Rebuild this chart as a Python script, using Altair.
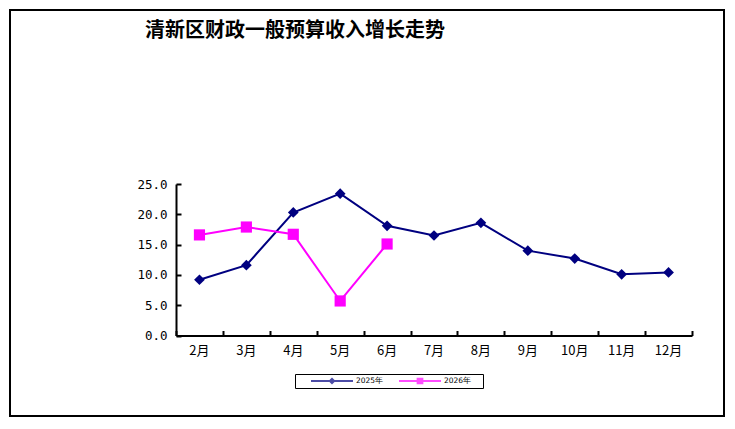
import altair as alt
import pandas as pd

months = ["2月", "3月", "4月", "5月", "6月", "7月", "8月", "9月", "10月", "11月", "12月"]
values_2025 = [9.2, 11.6, 20.3, 23.4, 18.1, 16.5, 18.6, 14.0, 12.7, 10.1, 10.4]
values_2026 = [16.6, 17.9, 16.7, 5.7, 15.1]
series_names = ["2025年", "2026年"]
y_ticks = [0, 5, 10, 15, 20, 25]

rows = [{"月份": m, "值": v, "系列": series_names[0]} for m, v in zip(months, values_2025)]
rows += [{"月份": m, "值": v, "系列": series_names[1]} for m, v in zip(months, values_2026)]
df = pd.DataFrame(rows)

W, H = 714, 406
X0, X1 = 166, 682          # x axis extent inside the view
Y0, Y25 = 325.5, 174       # y pixel of 0 and 25

xscale = alt.Scale(type="band", domain=months, range=[X0, X1], paddingInner=0, paddingOuter=0)
yscale = alt.Scale(domain=[0, 25], range=[Y0, Y25], nice=False, zero=True)
colors = alt.Scale(domain=series_names, range=["#000080", "#FF00FF"])

cjk = "Noto Sans CJK SC"

# lines + axes carrying labels and domain lines
lines = alt.Chart(df).mark_line(strokeWidth=2).encode(
    x=alt.X("月份:N", scale=xscale, sort=months, bandPosition=0.5,
            axis=alt.Axis(orient="bottom", offset=-(H - Y0), title=None, ticks=False,
                          domainColor="black", domainWidth=2, labelAngle=0,
                          labelFont=cjk, labelFontSize=13, labelColor="black", labelPadding=9)),
    y=alt.Y("值:Q", scale=yscale,
            axis=alt.Axis(orient="left", offset=-X0, title=None, ticks=False, grid=False,
                          values=y_ticks, format=".1f", domainColor="black", domainWidth=2,
                          labelFont="DejaVu Sans Mono", labelFontSize=12.5, labelColor="black",
                          labelPadding=9)),
    color=alt.Color("系列:N", scale=colors, legend=None),
)

# markers + axes with the inside ticks only
points = alt.Chart(df).mark_point(filled=True, opacity=1).encode(
    x=alt.X("月份:N", scale=xscale, sort=months, bandPosition=0.5,
            axis=alt.Axis(orient="top", offset=-Y0, title=None, labels=False, domain=False,
                          ticks=True, tickSize=5, tickWidth=2, tickColor="black", tickBand="extent")),
    y=alt.Y("值:Q", scale=yscale,
            axis=alt.Axis(orient="right", offset=-(W - X0), title=None, labels=False, domain=False,
                          grid=False, values=y_ticks, ticks=True, tickSize=5, tickWidth=2,
                          tickColor="black")),
    color=alt.Color("系列:N", scale=colors, legend=None),
    shape=alt.Shape("系列:N", scale=alt.Scale(domain=series_names, range=["diamond", "square"]), legend=None),
    size=alt.Size("系列:N", scale=alt.Scale(domain=series_names, range=[115, 125]), legend=None),
)

# legend only: line-with-marker symbols
bar = "M-1,-0.05L1,-0.05L1,0.05L-1,0.05Z "
legend_shapes = [bar + "M0,-0.17L0.17,0L0,0.17L-0.17,0Z",
                 bar + "M-0.16,-0.16L0.16,-0.16L0.16,0.16L-0.16,0.16Z"]
legend_layer = alt.Chart(df).transform_filter("false").mark_point(filled=True).encode(
    color=alt.Color("系列:N", scale=colors,
                    legend=alt.Legend(orient="none", legendX=285, legendY=364, direction="horizontal",
                                      title="\u3000", titleOrient="right", titlePadding=10,
                                      titleFontSize=7.5, titleFont="DejaVu Sans",
                                      strokeColor="black", padding=2, clipHeight=10,
                                      symbolSize=1764, symbolStrokeWidth=0, symbolOffset=14,
                                      labelOffset=3, columnPadding=1, labelFont="DejaVu Sans",
                                      labelFontSize=7.5, labelColor="black")),
    shape=alt.Shape("系列:N", scale=alt.Scale(domain=series_names, range=legend_shapes)),
)

chart = alt.layer(lines, points, legend_layer).resolve_axis(
    x="independent", y="independent"
).resolve_scale(
    color="independent", shape="independent"
).properties(
    width=W, height=H, padding=2,
    autosize=alt.AutoSizeParams(type="none"),
    title=alt.TitleParams("清新区财政一般预算收入增长走势", anchor="start", frame="group",
                          dx=135, dy=31, offset=0, baseline="top", font=cjk, fontSize=20,
                          fontWeight="bold", color="black"),
).configure(background="white").configure_view(stroke="black", strokeWidth=2)

chart.save("out.html", embed_options={"renderer": "svg", "actions": False})
